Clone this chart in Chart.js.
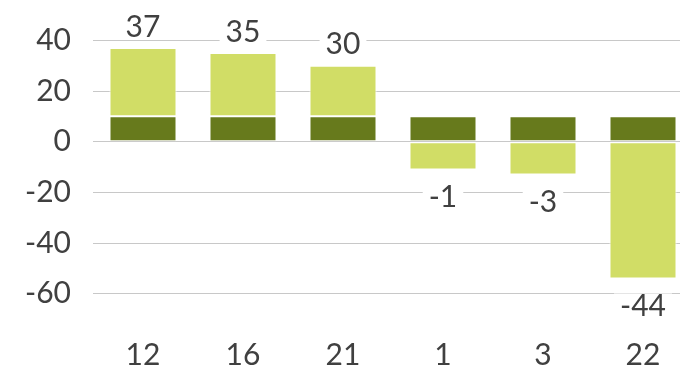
<!DOCTYPE html>
<html>
<head>
<meta charset="utf-8">
<script src="https://cdn.jsdelivr.net/npm/chart.js@4.4.1/dist/chart.umd.min.js"></script>
<style>
  html, body { margin: 0; padding: 0; background: #fff; overflow: hidden; }
  #wrap { width: 693px; height: 369px; }
</style>
</head>
<body>
<div id="wrap"><canvas id="chart" width="693" height="369"></canvas></div>
<script>
var categories = ["12", "16", "21", "1", "3", "22"];
var baseValues = [10, 10, 10, 10, 10, 10];
var totals = [37, 35, 30, -1, -3, -44];
var changeValues = totals.map(function (t, i) { return t - baseValues[i]; });
var yTicks = [40, 20, 0, -20, -40, -60];

var textColor = "#404040";
var fontFamily = "Lato, 'Open Sans', sans-serif";

// total above / below each stack, on a white box that cuts the grid lines
var totalLabels = {
  id: "totalLabels",
  afterDatasetsDraw: function (chart) {
    var ctx = chart.ctx;
    var x = chart.scales.x, y = chart.scales.y;
    ctx.save();
    ctx.font = "30px " + fontFamily;
    ctx.textAlign = "center";
    ctx.textBaseline = "middle";
    categories.forEach(function (c, i) {
      var base = baseValues[i], change = changeValues[i];
      var total = base + change;
      var top = Math.max(base, base + change, 0);
      var bottom = Math.min(0, change);
      var cx = x.getPixelForValue(i);
      var cy = total >= 0 ? y.getPixelForValue(top) - 21 : y.getPixelForValue(bottom) + 28;
      var txt = String(total);
      var w = ctx.measureText(txt).width + 12;
      ctx.fillStyle = "#ffffff";
      ctx.fillRect(cx - w / 2, cy - 13, w, 24);
      ctx.fillStyle = textColor;
      ctx.fillText(txt, cx, cy);
    });
    ctx.restore();
  }
};

new Chart(document.getElementById("chart"), {
  type: "bar",
  data: {
    labels: categories,
    datasets: [
      {
        label: "base",
        data: baseValues,
        backgroundColor: "#677a1c",
        borderColor: "#ffffff",
        borderWidth: 1,
        borderSkipped: false,
        barPercentage: 0.67,
        categoryPercentage: 1
      },
      {
        label: "change",
        data: changeValues,
        backgroundColor: "#d1dd66",
        borderColor: "#ffffff",
        borderWidth: 1,
        borderSkipped: false,
        barPercentage: 0.67,
        categoryPercentage: 1
      }
    ]
  },
  options: {
    responsive: false,
    animation: false,
    layout: { padding: { top: 15, left: 0, right: 0, bottom: 0 } },
    plugins: { legend: { display: false }, tooltip: { enabled: false } },
    scales: {
      x: {
        stacked: true,
        grid: { display: false },
        border: { display: false },
        ticks: { color: textColor, font: { family: fontFamily, size: 30 }, padding: 10 },
        afterFit: function (s) {
          s.height = 50;
          s.paddingLeft = 0;
          s.paddingRight = 0;
        }
      },
      y: {
        stacked: true,
        min: -70,
        max: 50,
        afterBuildTicks: function (s) {
          s.ticks = yTicks.map(function (v) { return { value: v }; });
        },
        grid: { color: "#c8c8c8", lineWidth: 1, drawTicks: false },
        border: { display: false },
        ticks: { color: textColor, font: { family: fontFamily, size: 30 }, padding: 22 },
        afterFit: function (s) {
          s.width = 93;
          s.paddingTop = 0;
          s.paddingBottom = 0;
        }
      }
    }
  },
  plugins: [totalLabels]
});
</script>
</body>
</html>
